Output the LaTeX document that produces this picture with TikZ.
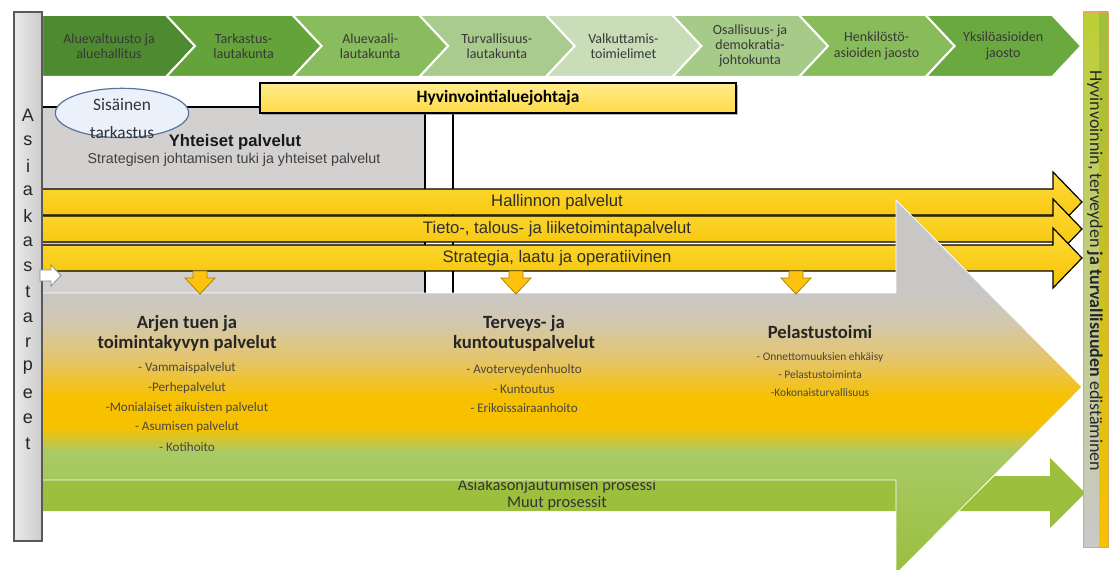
\documentclass[tikz,border=0pt]{standalone}
\usepackage{fontspec}
\setmainfont{Carlito}
\newfontfamily\arial{Liberation Sans}
\usetikzlibrary{shapes.geometric,shadows}

\definecolor{chA}{HTML}{4E8A30}
\definecolor{chB}{HTML}{64A23A}
\definecolor{chC}{HTML}{88BC5C}
\definecolor{chD}{HTML}{A9CC8E}
\definecolor{chE}{HTML}{C8DDB8}
\definecolor{chF}{HTML}{A6CA88}
\definecolor{chG}{HTML}{88BB5A}
\definecolor{chH}{HTML}{6AA840}
\definecolor{boxgray}{HTML}{D3D1D0}
\definecolor{bossT}{HTML}{FFEC8E}
\definecolor{bossB}{HTML}{FFDB48}
\definecolor{ellfill}{HTML}{EAF1FB}
\definecolor{elldraw}{HTML}{56749E}
\definecolor{ybarT}{HTML}{FFDB3C}
\definecolor{ybarB}{HTML}{F4C200}
\definecolor{darrow}{HTML}{FFC20E}
\definecolor{darrowB}{HTML}{A88400}
\definecolor{procgreen}{HTML}{9CC03E}
\definecolor{gA}{HTML}{C9C7C5}
\definecolor{gB}{HTML}{D2C8B0}
\definecolor{gC}{HTML}{E6C466}
\definecolor{gD}{HTML}{F8C100}
\definecolor{gE}{HTML}{AACA66}
\definecolor{gF}{HTML}{98BE3C}
\definecolor{sideL}{HTML}{EAEAEA}
\definecolor{sideR}{HTML}{CCCCCC}
\definecolor{rbTop}{HTML}{BCCF34}
\definecolor{rbMid}{HTML}{F0C418}
\definecolor{rbBot}{HTML}{C9C9C9}
\definecolor{rbEdge}{HTML}{E2A85A}

\tikzset{
  chevtxt/.style={align=center,text=black!78,font=\fontsize{10.5}{11.5}\selectfont},
  bossbox/.style={draw=black,line width=1.4pt,top color=bossT,bottom color=bossB,
    minimum width=357pt,minimum height=23pt,inner sep=0pt,
    drop shadow={shadow xshift=1.5pt,shadow yshift=-1.5pt,fill=black!55},
    font=\bfseries\fontsize{13}{15}\selectfont},
  sisbox/.style={ellipse,draw=elldraw,fill=ellfill,line width=0.9pt,
    minimum width=100pt,minimum height=37pt,inner sep=0pt},
  ybar/.style={top color=ybarT,bottom color=ybarB,draw=black,line width=0.9pt},
  ytxt/.style={text=black!82,font=\arial\fontsize{12.5}{14}\selectfont},
  downarr/.style={fill=darrow,draw=darrowB,line width=0.6pt},
  unit/.style={align=center,text=black!85,font=\bfseries\fontsize{14}{15}\selectfont},
  item/.style={text=black!72,font=\fontsize{9.8}{11}\selectfont},
  smallitem/.style={text=black!72,font=\fontsize{8.6}{10}\selectfont},
  proctxt/.style={text=black!80,font=\fontsize{12.3}{13}\selectfont},
  letter/.style={text=black!85,font=\arial\fontsize{13.5}{14}\selectfont},
}

\begin{document}
\begin{tikzpicture}[x=0.75pt,y=-0.75pt]
\useasboundingbox (0,0) rectangle (1113,570);
\fill[white] (0,0) rectangle (1113,570);

\foreach \i/\col/\txt in {1/chA/{Aluevaltuusto ja\\aluehallitus},2/chB/{Tarkastus-\\lautakunta},
  3/chC/{Aluevaali-\\lautakunta},4/chD/{Turvallisuus-\\lautakunta},5/chE/{Valkuttamis-\\toimielimet},
  6/chF/{Osallisuus- ja\\demokratia-\\johtokunta},7/chG/{Henkilöstö-\\asioiden jaosto},
  8/chH/{Yksilöasioiden\\jaosto}} {
  \pgfmathsetmacro\tip{195+126.6*(\i-1)}
  \pgfmathsetmacro\lx{ifthenelse(\i==1,42,\tip-126.6-29)}
  \pgfmathsetmacro\mx{ifthenelse(\i==1,42,\tip-126.6)}
  \pgfmathsetmacro\cx{ifthenelse(\i==1,109,\tip-78)}
  \fill[\col,draw=white,line width=1.5pt] (\lx,15) -- (\tip-29,15) -- (\tip,46)
    -- (\tip-29,77) -- (\lx,77) -- (\mx,46) -- cycle;
  \node[chevtxt] (chev\i) at (\cx,46) {\txt};
}

\fill[boxgray] (42,107) rectangle (425,293);
\draw[line width=1.1pt] (42,107) -- (259,107);
\draw[line width=1.1pt] (425,114) -- (425,293);
\draw[line width=1.1pt] (453,114) -- (453,293);
\node[bossbox] (johtaja) at (498,98) {Hyvinvointialuejohtaja};
\node[sisbox] (sisainen) at (122,113) {};
\node[align=center,text=black!80,font=\fontsize{13}{21}\selectfont] (sistxt) at (122,119) {Sisäinen\\tarkastus};
\node[text=black!90,font=\arial\bfseries\fontsize{12.5}{14}\selectfont] (yhteiset) at (235,142) {Yhteiset palvelut};
\node[text=black!75,font=\arial\fontsize{10.7}{12}\selectfont] (yhtsub) at (234,160) {Strategisen johtamisen tuki ja yhteiset palvelut};

\foreach \c/\name/\txt in {202/hallinto/Hallinnon palvelut,229/tieto/{Tieto-, talous- ja liiketoimintapalvelut},
  258/strategia/{Strategia, laatu ja operatiivinen}} {
  \draw[ybar] (42,\c-13) -- (1053,\c-13) -- (1053,\c-30) -- (1082,\c) -- (1053,\c+30)
    -- (1053,\c+13) -- (42,\c+13) -- cycle;
  \node[ytxt] (\name) at (557,\c) {\txt};
}

\fill[procgreen] (42,476) -- (1050,476) -- (1050,458) -- (1085,493) -- (1050,528)
  -- (1050,511) -- (42,511) -- cycle;
\node[proctxt] (ohjaus) at (557,486) {Asiakasonjautumisen prosessi};
\node[proctxt] (muut) at (557,503) {Muut prosessit};

\draw[white,line width=0.6pt,path picture={
  \fill[gA] (0,190) rectangle (1113,294);
  \foreach \ya/\yb/\ca/\cb in {293/322/gA/gB,321/362/gB/gC,361/398/gC/gD,397/428/gD/gD,
    427/452/gD/gE,451/580/gE/gF}
    \shade[top color=\ca,bottom color=\cb] (0,\ya) rectangle (1113,\yb);
  }] (42,293) -- (896,293) -- (896,200) -- (1082,387) -- (896,574) -- (896,480)
  -- (42,480) -- cycle;

\foreach \x in {200,516,796}
  \draw[downarr] (\x-7,271) -- (\x+7,271) -- (\x+7,278) -- (\x+15,278) -- (\x,294)
    -- (\x-15,278) -- (\x-7,278) -- cycle;

\node[unit] (arki) at (187,333) {Arjen tuen ja\\toimintakyvyn palvelut};
\foreach \t [count=\n from 0] in {- Vammaispalvelut,-Perhepalvelut,-Monialaiset aikuisten palvelut,
  - Asumisen palvelut,- Kotihoito}
  \node[item] (arki\n) at (187,368+19.8*\n) {\t};
\node[unit] (terveys) at (524,333) {Terveys- ja\\kuntoutuspalvelut};
\foreach \t [count=\n from 0] in {- Avoterveydenhuolto,- Kuntoutus,- Erikoissairaanhoito}
  \node[item] (terveys\n) at (524,370+19*\n) {\t};
\node[unit] (pelastus) at (820,332) {Pelastustoimi};
\foreach \t [count=\n from 0] in {- Onnettomuuksien ehkäisy,- Pelastustoiminta,-Kokonaisturvallisuus}
  \node[smallitem] (pelastus\n) at (820,357+18*\n) {\t};

\shade[left color=sideL,right color=sideR,draw=black!65,line width=1.1pt] (14,12) rectangle (42,541);
\foreach \l [count=\n from 0] in {A,s,i,a,k,a,s,t,a,r,p,e,e,t}
  \node[letter] (tarve\n) at (28,115+25.3*\n) {\l};
\draw[fill=white,draw=black!45,line width=0.6pt] (40,270) -- (51,270) -- (51,265) -- (61,275.5)
  -- (51,286) -- (51,281) -- (40,281) -- cycle;

\shade[top color=rbTop,middle color=rbMid,bottom color=rbBot] (1083,12) rectangle (1108,547);
\shade[top color=procgreen,bottom color=gD] (1099,12) rectangle (1108,547);
\draw[rbEdge,line width=0.6pt] (1083,12) rectangle (1108,547);
\node[rotate=-90,anchor=west,inner sep=0pt,text=black!85,font=\fontsize{13.5}{16}\selectfont] (edistaminen) at (1095,70)
  {Hyvinvoinnin, terveyden \textbf{ja turvallisuuden} edistäminen};
\end{tikzpicture}
\end{document}
